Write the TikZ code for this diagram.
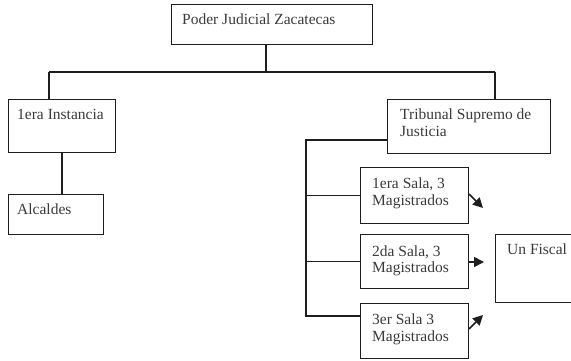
\documentclass[tikz,border=0pt]{standalone}
\usepackage{fontspec}
\setmainfont{Liberation Serif}
\usetikzlibrary{arrows.meta}
\definecolor{ln}{HTML}{1E1E1E}
\definecolor{tx}{HTML}{3A3A3A}
\begin{document}
\begin{tikzpicture}[x=1pt,y=-1pt,
  box/.style={draw=ln,line width=1.4pt,minimum width=#1,inner sep=0pt,anchor=north west},
  lbl/.style={text=tx,anchor=base west,align=left,inner sep=0pt,font=\fontsize{15.5}{16.5}\selectfont},
  conn/.style={draw=ln,line width=1.5pt},
  arr/.style={draw=ln,line width=1.6pt,-{Triangle[length=10pt,width=10pt]}}]
\useasboundingbox (0,0) rectangle (571,361);
\clip (0,0) rectangle (571,361);
% boxes
\node[box=201pt,minimum height=40pt] (top) at (171,4) {};
\node[box=107pt,minimum height=53pt] (inst) at (8,99) {};
\node[box=95pt,minimum height=40pt] (alc) at (8,194) {};
\node[box=163pt,minimum height=54pt] (trib) at (387,99) {};
\node[box=108pt,minimum height=56pt] (s1) at (360,167) {};
\node[box=108pt,minimum height=54pt] (s2) at (360,234) {};
\node[box=108pt,minimum height=55pt] (s3) at (360,303) {};
\node[box=110pt,minimum height=68pt] (fis) at (495,234) {};
% labels (two-line labels anchored at the baseline of their last line)
\node[lbl] (ttop) at (182,25) {Poder Judicial Zacatecas};
\node[lbl] (tinst) at (17,120) {1era Instancia};
\node[lbl] (talc) at (17,214) {Alcaldes};
\node[lbl] (ttrib) at (400,136) {Tribunal Supremo de\\Justicia};
\node[lbl] (ts1) at (372,205) {1era Sala, 3\\Magistrados};
\node[lbl] (ts2) at (372,272.5) {2da Sala, 3\\Magistrados};
\node[lbl] (ts3) at (372,341) {3er Sala 3\\Magistrados};
\node[lbl] (tfis) at (507,254) {Un Fiscal};
% connectors
\coordinate (hl) at (49,72);
\coordinate (hr) at (495,72);
\coordinate (tj) at (266,44);
\draw[conn] (tj) -- (tj |- hl);
\draw[conn] (hl) -- (hr);
\draw[conn] (hl) -- (hl |- inst.north);
\draw[conn] (hr) -- (hr |- trib.north);
\draw[conn] (inst.south) -- (inst.south |- alc.north);
\coordinate (t0) at (306,140);
\coordinate (c3) at (306,316);
\draw[conn] (t0 -| trib.west) -- (t0) -- (c3) -- (c3 -| s3.west);
\draw[conn] (t0 |- s1.west) -- (s1.west);
\draw[conn] (t0 |- s2.west) -- (s2.west);
% arrows
\coordinate (a1) at (469,194);
\coordinate (a2) at (469,262);
\coordinate (a3) at (469,329);
\draw[arr] (a1) -- ++(14,14);
\draw[arr] (a2) -- ++(15,0);
\draw[arr] (a3) -- ++(14,-14);
\end{tikzpicture}
\end{document}
